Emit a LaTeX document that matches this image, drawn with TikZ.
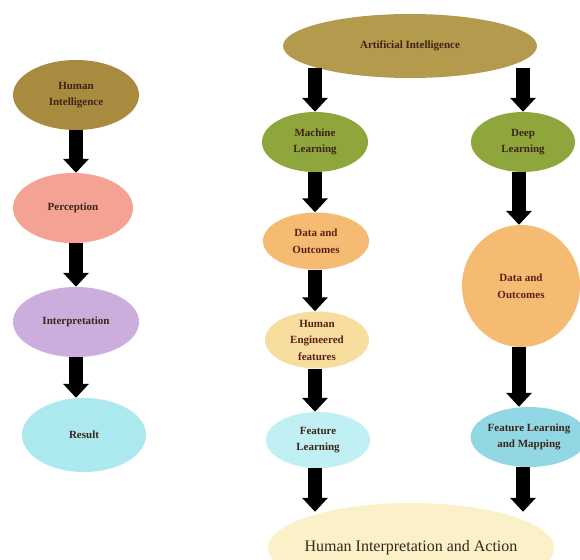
\documentclass[tikz,border=0pt]{standalone}
\usepackage{fontspec}
\setmainfont{Liberation Serif}
\usetikzlibrary{shapes.geometric,arrows.meta}
\definecolor{hiC}{HTML}{A88B3E}
\definecolor{aiC}{HTML}{B39A4C}
\definecolor{perC}{HTML}{F4A293}
\definecolor{intC}{HTML}{CBAEDD}
\definecolor{resC}{HTML}{ABE9EF}
\definecolor{mlC}{HTML}{8FA63C}
\definecolor{doC}{HTML}{F6BB72}
\definecolor{heC}{HTML}{F8DE9E}
\definecolor{flC}{HTML}{C0F0F3}
\definecolor{fmC}{HTML}{92D8E4}
\definecolor{hiaC}{HTML}{FBF1C8}
\definecolor{txtC}{HTML}{3E2418}
\definecolor{redtxt}{HTML}{5A2216}
\tikzset{
  ell/.style={ellipse, draw=none, inner sep=0pt, align=center,
    text=txtC, font=\fontsize{11}{16.5}\selectfont\bfseries},
  bigarrow/.style={line width=14pt, -{Triangle[width=25pt,length=14pt]}, black}
}
\begin{document}
\begin{tikzpicture}[x=1pt,y=-1pt]
\useasboundingbox (0,0) rectangle (580,559);
\fill[white] (0,0) rectangle (580,559);
% left column
\node[ell, fill=hiC, minimum width=126, minimum height=70] (hi) at (76,95) {Human\\Intelligence};
\node[ell, fill=perC, minimum width=120, minimum height=70] (per) at (73,208) {Perception};
\node[ell, fill=intC, minimum width=126, minimum height=70] (int) at (76,322) {Interpretation};
\node[ell, fill=resC, minimum width=124, minimum height=74] (res) at (84,435) {Result};
\draw[bigarrow] (hi.south) -- (hi.south |- per.north);
\draw[bigarrow] (per.south -| hi.south) -- (hi.south |- int.north);
\draw[bigarrow] (int.south -| hi.south) -- (hi.south |- res.north);
% right part
\node[ell, fill=aiC, minimum width=254, minimum height=64] (ai) at (410,46) {Artificial Intelligence};
\node[ell, fill=mlC, minimum width=106, minimum height=60] (ml) at (315,142) {Machine\\Learning};
\node[ell, fill=mlC, minimum width=104, minimum height=60] (dl) at (523,142) {Deep\\Learning};
\node[ell, fill=doC, minimum width=106, minimum height=57, text=redtxt] (do1) at (316,241) {Data and\\Outcomes};
\node[ell, fill=heC, minimum width=104, minimum height=56, text=redtxt] (he) at (317,340) {Human\\Engineered\\features};
\node[ell, fill=flC, minimum width=104, minimum height=56] (fl) at (318,440) {Feature\\Learning};
\node[ell, fill=doC, minimum width=118, minimum height=122, text=redtxt] (do2) at (521,286) {Data and\\Outcomes};
\node[ell, fill=fmC, minimum width=108, minimum height=60] (fm) at (529,437) {Feature Learning\\and Mapping};
\node[ell, fill=hiaC, minimum width=286, minimum height=90, inner xsep=-14pt, font=\fontsize{16}{18}\selectfont] (hia) at (411,548) {Human Interpretation and Action};
% arrows
\draw[bigarrow] ([yshift=10pt]ai.south -| ml.north) -- (ml.north);
\draw[bigarrow] ([yshift=10pt]ai.south -| dl.north) -- (dl.north);
\draw[bigarrow] (ml.south) -- (ml.south |- do1.north);
\draw[bigarrow] (do1.south -| ml.south) -- (ml.south |- he.north);
\draw[bigarrow] (he.south -| ml.south) -- (ml.south |- fl.north);
\draw[bigarrow] (fl.south -| ml.south) -- ([yshift=-9pt]hia.north -| ml.south);
\draw[bigarrow] (dl.south -| 519,0) -- (519,0 |- do2.north);
\draw[bigarrow] (do2.south -| 519,0) -- (519,0 |- fm.north);
\draw[bigarrow] (fm.south -| 523,0) -- ([yshift=-9pt]hia.north -| 523,0);
\end{tikzpicture}
\end{document}
